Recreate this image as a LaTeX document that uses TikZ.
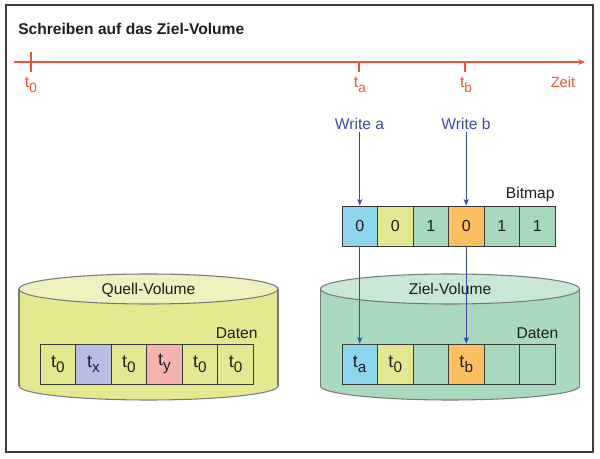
\documentclass[tikz,border=0pt]{standalone}
\usepackage{fontspec}
\setmainfont{Liberation Sans}
\usepackage{xcolor}
\usepackage{tikz}
\usetikzlibrary{arrows.meta, calc, positioning}
\definecolor{ink}{HTML}{1E1E1E}
\definecolor{framegray}{HTML}{3C3C3C}
\definecolor{timered}{HTML}{EE5236}
\definecolor{wblue}{HTML}{4149A6}
\definecolor{cellline}{HTML}{3A3A3A}
\definecolor{cylline}{HTML}{7A7A7A}
\definecolor{cyanc}{HTML}{8ED4EA}
\definecolor{yelc}{HTML}{E3E78F}
\definecolor{grnc}{HTML}{A6D8BC}
\definecolor{orgc}{HTML}{FDBF60}
\definecolor{lilc}{HTML}{B9BCE3}
\definecolor{pnkc}{HTML}{F4B3B1}
\definecolor{qbody}{HTML}{E5E88F}
\definecolor{qlid}{HTML}{EEF0BE}
\definecolor{zbody}{HTML}{A9D9BF}
\definecolor{zlid}{HTML}{C8E7D5}
\newcommand{\tsub}[1]{\raisebox{-0.5ex}{\scalebox{0.85}{#1}}}

\begin{document}
\begin{tikzpicture}[x=0.75pt, y=-0.75pt,
  cell/.style={draw=cellline, line width=0.7pt, minimum width=26.6pt,
    minimum height=30pt, inner sep=0pt, text=ink, font=\fontsize{13.5}{16}\selectfont},
  bit/.style={cell, font=\fontsize{12}{14}\selectfont},
  lbl/.style={font=\fontsize{11.7}{14}\selectfont, inner sep=1pt, text=ink},
  tlbl/.style={lbl, anchor=base, text=timered, font=\fontsize{12}{14}\selectfont},
  wr/.style={lbl, anchor=base, text=wblue},
  ptr/.style={wblue, line width=0.8pt, -{Stealth[length=5pt, width=4pt]}},
  cyl/.style={draw=cylline, line width=0.8pt}]
  \useasboundingbox (0,0) rectangle (600,459);
  \draw[framegray, line width=1.5pt] (6,5) rectangle (593,452);

  \node[anchor=base west, inner sep=0pt, text=ink, font=\bfseries\fontsize{11.7}{14}\selectfont]
    (title) at (18,35) {Schreiben auf das Ziel-Volume};

  % time axis
  \coordinate (tstart) at (14,62);
  \coordinate (tend) at (585,62);
  \draw[timered, line width=1.3pt, -{Stealth[length=5pt, width=4.5pt]}] (tstart) -- (tend);
  \draw[timered, line width=1.5pt] (30.5,52) -- (30.5,72);
  \foreach \x in {359,465}
    \draw[timered, line width=1.3pt] (\x,62) -- (\x,72);
  \node[tlbl] (lt0) at (31,88) {t\tsub{0}};
  \node[tlbl] (lta) at (360,88) {t\tsub{a}};
  \node[tlbl] (ltb) at (466,88) {t\tsub{b}};
  \node[tlbl, font=\fontsize{11}{13}\selectfont] (lzeit) at (563,88) {Zeit};

  % the two volumes
  \foreach \cx/\body/\lid/\nm/\txt in {148.5/qbody/qlid/qvol/Quell-Volume,
                                      450/zbody/zlid/zvol/Ziel-Volume}{
    \filldraw[cyl, fill=\body] (\cx,386) ellipse [x radius=129.5, y radius=14];
    \fill[\body] (\cx-129.5,289) rectangle (\cx+129.5,386);
    \draw[cyl] (\cx-129.5,289) -- (\cx-129.5,386) (\cx+129.5,289) -- (\cx+129.5,386);
    \filldraw[cyl, fill=\lid] (\cx,289) ellipse [x radius=129.5, y radius=15];
    \node[lbl, anchor=base] (\nm) at (\cx,295) {\txt};
  }

  % blocks
  \foreach \i/\col/\txt in {1/yelc/t\tsub{0}, 2/lilc/t\tsub{x}, 3/yelc/t\tsub{0},
                            4/pnkc/t\tsub{y}, 5/yelc/t\tsub{0}, 6/yelc/t\tsub{0}}
    \node[cell, fill=\col] (q\i) at ({40+35.55*(\i-0.5)},364) {\txt};
  \foreach \i/\col/\txt in {1/cyanc/t\tsub{a}, 2/yelc/t\tsub{0}, 3/grnc/,
                            4/orgc/t\tsub{b}, 5/grnc/, 6/grnc/}
    \node[cell, fill=\col] (z\i) at ({342+35.5*(\i-0.5)},364) {\txt};
  \foreach \i/\col/\txt in {1/cyanc/0, 2/yelc/0, 3/grnc/1,
                            4/orgc/0, 5/grnc/1, 6/grnc/1}
    \node[bit, fill=\col] (b\i) at ({342+35.5*(\i-0.5)},226) {\txt};

  \node[lbl, inner sep=0pt, anchor=base east] (qdat) at ([xshift=3pt, yshift=3.75pt]q6.north east) {Daten};
  \node[lbl, inner sep=0pt, anchor=base east] (zdat) at ([xshift=2.25pt, yshift=3.75pt]z6.north east) {Daten};
  \node[lbl, inner sep=0pt, anchor=base east] (bmap) at ([xshift=-0.5pt, yshift=5.25pt]b6.north east) {Bitmap};

  % writes
  \node[wr] (wa) at (359.5,130) {Write a};
  \node[wr] (wb) at (466,130) {Write b};
  \draw[ptr] (b1.north |- wa.south) -- (b1.north);
  \draw[ptr] (b4.north |- wb.south) -- (b4.north);
  \draw[ptr] (b1.south) -- (z1.north);
  \draw[ptr] (b4.south) -- (z4.north);
\end{tikzpicture}
\end{document}
